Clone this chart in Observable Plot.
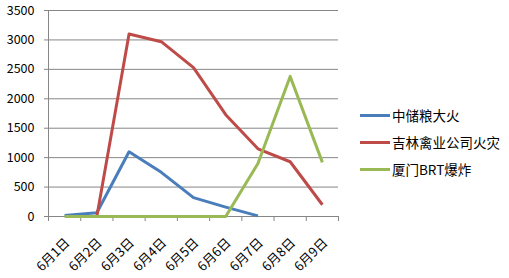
<!DOCTYPE html>
<html><head><meta charset="utf-8">
<script src="https://cdn.jsdelivr.net/npm/d3@7"></script>
<script src="https://cdn.jsdelivr.net/npm/@observablehq/plot@0.6"></script>
<style>
body{margin:0;background:#fff;font-family:"Noto Sans CJK SC","Noto Sans",sans-serif;}
#wrap{position:relative;width:509px;height:278px;}
.leg{position:absolute;left:360px;font-size:13.5px;color:#000;display:flex;align-items:center;white-space:nowrap;}
.leg span.sw{display:inline-block;width:30px;height:3px;margin-right:2px;}
</style>
</head><body><div id="wrap"></div>
<script>
const dates = ["6月1日","6月2日","6月3日","6月4日","6月5日","6月6日","6月7日","6月8日","6月9日"];
const seriesNames = ["中储粮大火","吉林禽业公司火灾","厦门BRT爆炸"];
const colors = ["#4A7EBB","#BE4B48","#98B954"];
const blue = [15, 65, 1100, 750, 320, 160, 10, null, null];
const red = [null, 0, 3100, 2970, 2530, 1730, 1150, 930, 200];
const green = [0, 0, 0, 0, 0, 0, 900, 2380, 920];
const yTicks = [0,500,1000,1500,2000,2500,3000,3500];

const rows = [];
[blue, red, green].forEach((arr, s) => arr.forEach((v, i) => {
  if (v != null) rows.push({series: seriesNames[s], i, v});
}));
const boundaries = d3.range(0, dates.length + 1).map(k => k - 0.5);

const chart = Plot.plot({
  width: 509, height: 278,
  marginLeft: 48, marginRight: 171, marginTop: 10, marginBottom: 62,
  style: {fontFamily: '"Noto Sans CJK SC","Noto Sans",sans-serif', fontSize: "12.5px", color: "#000", background: "#fff", overflow: "visible"},
  x: {type: "linear", domain: [-0.5, dates.length - 0.5], axis: null},
  y: {domain: [0, 3500], axis: null},
  color: {domain: seriesNames, range: colors},
  marks: [
    Plot.ruleY(yTicks, {stroke: "#868686", strokeWidth: 1}),
    Plot.ruleX([-0.5], {stroke: "#868686", strokeWidth: 1}),
    Plot.axisY({ticks: yTicks, tickSize: 4, tickPadding: 10, stroke: "#868686", fontSize: 12.5, label: null, tickFormat: d => String(d)}),
    Plot.axisX({ticks: boundaries, tickSize: 5, label: null, tickFormat: () => "", stroke: "#868686"}),
    Plot.axisX({ticks: d3.range(dates.length), tickSize: 0, tickPadding: 20, tickRotate: -45, fontSize: 13, dy: 4, dx: 3, label: null, tickFormat: i => dates[i]}),
    Plot.line(rows, {x: "i", y: "v", z: "series", stroke: "series", strokeWidth: 3, strokeLinejoin: "round", strokeLinecap: "butt"})
  ]
});
const wrap = document.getElementById("wrap");
wrap.appendChild(chart);
const legY = [115, 142, 169];
seriesNames.forEach((n, k) => {
  const d = document.createElement("div");
  d.className = "leg";
  d.style.top = (legY[k] - 10) + "px";
  d.style.height = "20px";
  d.innerHTML = `<span class="sw" style="background:${colors[k]}"></span>${n}`;
  wrap.appendChild(d);
});
</script></body></html>
